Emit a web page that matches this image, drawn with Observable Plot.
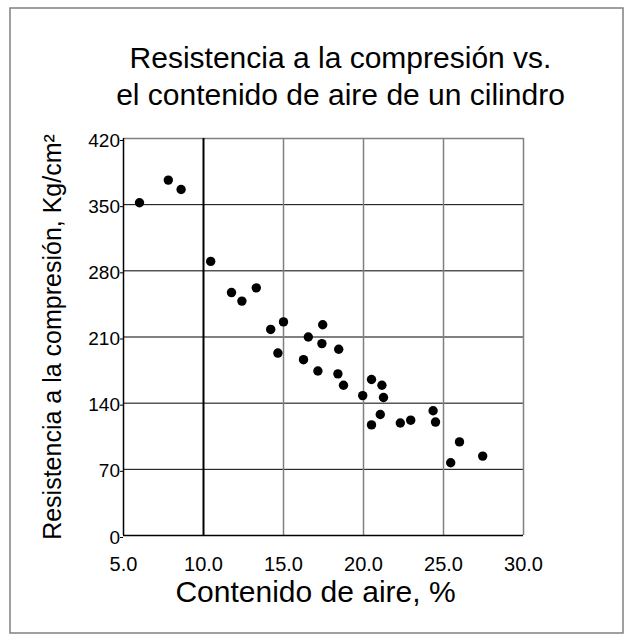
<!DOCTYPE html>
<html><head><meta charset="utf-8">
<script src="https://cdn.jsdelivr.net/npm/d3@7"></script>
<script src="https://cdn.jsdelivr.net/npm/@observablehq/plot@0.6"></script>
<style>
html,body{margin:0;padding:0;background:#fff;}
#chart{width:632px;height:641px;}
</style></head><body><div id="chart"></div>
<script>
const titleLine1 = "Resistencia a la compresión vs.";
const titleLine2 = "el contenido de aire de un cilindro";
const xLabel = "Contenido de aire, %";
const yLabel = "Resistencia a la compresión, Kg/cm²";
const xTicks = [5, 10, 15, 20, 25, 30];
const yTicks = [0, 70, 140, 210, 280, 350, 420];
const airContent = [6.0, 7.8, 8.6, 10.45, 11.75, 12.4, 13.3, 14.2, 15.0, 14.65, 16.55, 17.45, 17.4, 16.25, 18.45, 17.15, 18.4, 18.75, 19.95, 20.5, 21.15, 21.25, 21.05, 20.5, 22.3, 22.95, 24.35, 24.5, 26.0, 25.45, 27.45];
const strength = [352, 376, 366, 290, 257, 248, 262, 218, 226, 193, 210, 223, 203, 186, 197, 174, 171, 159, 148, 165, 159, 146, 128, 117, 119, 122, 132, 120, 99, 77, 84];

const points = airContent.map((x, i) => ({x, y: strength[i]}));
const fmt = d3.format(".1f");

const mL = 123, mR = 109, mT = 138, mB = 106;
const chart = Plot.plot({
  width: 632, height: 641,
  marginLeft: mL, marginRight: mR, marginTop: mT, marginBottom: mB,
  style: {fontFamily: "'Liberation Sans', Arial, sans-serif", background: "white", color: "black", overflow: "visible"},
  x: {domain: [5, 30]},
  y: {domain: [0, 420]},
  marks: [
    Plot.frame({stroke: "#808080", strokeWidth: 1.5, insetLeft: -113.5, insetTop: -130.5, insetRight: -99.5, insetBottom: -97.5}),
    Plot.ruleY(yTicks.filter(d => d > 0 && d < 420), {stroke: "black", strokeWidth: 1}),
    Plot.ruleY([420], {stroke: "#808080", strokeWidth: 1.5}),
    Plot.ruleX(xTicks.filter(d => d > 10), {stroke: "#808080", strokeWidth: 1.5}),
    Plot.ruleX([10], {stroke: "black", strokeWidth: 2}),
    Plot.ruleX([5], {stroke: "black", strokeWidth: 1.5}),
    Plot.ruleY([0], {stroke: "black", strokeWidth: 1.5}),
    Plot.axisY({ticks: yTicks, tickSize: 3, tickPadding: 0.5, fontSize: 19, dy: 2, label: null, stroke: "black"}),
    Plot.axisX({ticks: xTicks, tickSize: 0, tickPadding: 21, fontSize: 20, label: null, tickFormat: fmt}),
    Plot.dot(points, {x: "x", y: "y", r: 4.7, fill: "black", stroke: "none"}),
    Plot.text([titleLine1], {frameAnchor: "top", lineAnchor: "middle", textAnchor: "middle", dx: 17, dy: -80, fontSize: 30, fill: "black"}),
    Plot.text([titleLine2], {frameAnchor: "top", lineAnchor: "middle", textAnchor: "middle", dx: 17, dy: -43, fontSize: 30, fill: "black"}),
    Plot.text([xLabel], {frameAnchor: "bottom", lineAnchor: "middle", textAnchor: "middle", dx: -8, dy: 57, fontSize: 30, fill: "black"}),
    Plot.text([yLabel], {frameAnchor: "left", lineAnchor: "middle", textAnchor: "middle", dx: -71, rotate: -90, fontSize: 25, fill: "black"})
  ]
});
document.getElementById("chart").appendChild(chart);
</script></body></html>
